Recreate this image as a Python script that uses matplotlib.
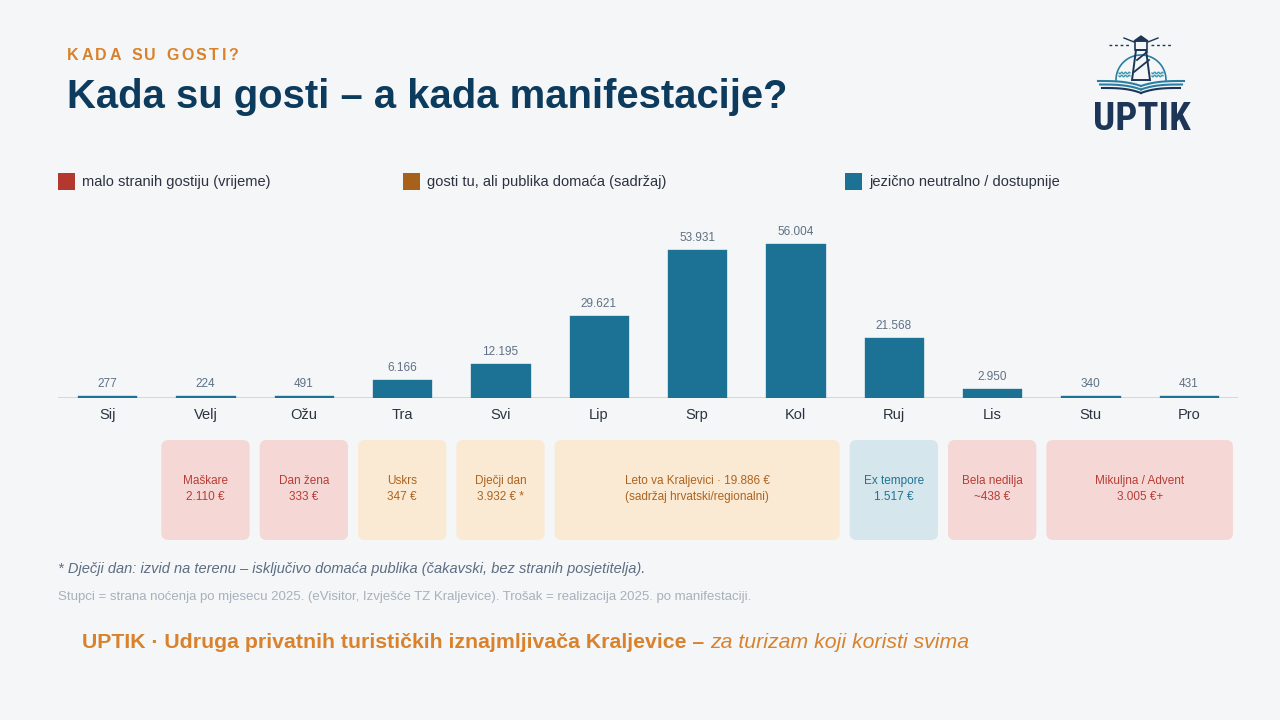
import matplotlib
matplotlib.use('Agg')
import matplotlib.pyplot as plt
import numpy as np
from matplotlib import font_manager
from matplotlib.patches import FancyBboxPatch, Rectangle, Polygon

plt.rcParams['font.family'] = ['Liberation Sans', 'DejaVu Sans']

# ---- data ----
months = ['Sij', 'Velj', 'Ožu', 'Tra', 'Svi', 'Lip', 'Srp', 'Kol', 'Ruj', 'Lis', 'Stu', 'Pro']
nights = [277, 224, 491, 6166, 12195, 29621, 53931, 56004, 21568, 2950, 340, 431]

# events: first / last month index, two text lines, category
ev_start = [1, 2, 3, 4, 5, 8, 9, 10]
ev_end = [1, 2, 3, 4, 7, 8, 9, 11]
ev_name = ['Maškare', 'Dan žena', 'Uskrs', 'Dječji dan', 'Leto va Kraljevici · 19.886 €',
           'Ex tempore', 'Bela nedilja', 'Mikuljna / Advent']
ev_cost = ['2.110 €', '333 €', '347 €', '3.932 € *', '(sadržaj hrvatski/regionalni)',
           '1.517 €', '~438 €', '3.005 €+']
ev_cat = ['red', 'red', 'orange', 'orange', 'orange', 'blue', 'red', 'red']

cat_keys = ['red', 'orange', 'blue']
cat_labels = ['malo stranih gostiju (vrijeme)',
              'gosti tu, ali publika domaća (sadržaj)',
              'jezično neutralno / dostupnije']

kicker = 'KADA SU GOSTI?'
title = 'Kada su gosti – a kada manifestacije?'
note = '* Dječji dan: izvid na terenu – isključivo domaća publika (čakavski, bez stranih posjetitelja).'
source = ('Stupci = strana noćenja po mjesecu 2025. (eVisitor, Izvješće TZ Kraljevice). '
          'Trošak = realizacija 2025. po manifestaciji.')
footer_bold = 'UPTIK · Udruga privatnih turističkih iznajmljivača Kraljevice – '
footer_it = 'za turizam koji koristi svima'

# ---- style ----
BG = '#f4f6f8'
NAVY = '#0d3b5e'
ORANGE = '#d9822b'
BAR = '#1c7294'
cat_color = {'red': '#b3392f', 'orange': '#a8611b', 'blue': '#1c7294'}
box_fill = {'red': '#f5d8d5', 'orange': '#fae9d3', 'blue': '#d6e6ed'}
box_text = {'red': '#b83d35', 'orange': '#ad6420', 'blue': '#1f7393'}

W, H = 1280, 720
fig = plt.figure(figsize=(12.8, 7.2), dpi=100, facecolor=BG)

# bar chart axes (pixel layout)
ax_l, ax_r, base_y, top_y = 58, 1238, 398, 220
ax = fig.add_axes([ax_l / W, 1 - base_y / H, (ax_r - ax_l) / W, (base_y - top_y) / H])
ax.set_facecolor('none')
x = np.arange(len(months))
ax.axhline(0, color='#cdd2d7', lw=1.2, zorder=1)
# thick edge keeps the tiny winter months visible, as in the original
ax.bar(x, nights, width=0.575, color=BAR, edgecolor=BAR, linewidth=2.4, zorder=2)
ax.set_xlim(-0.5, len(months) - 0.5)
ax.set_ylim(0, max(nights) * 178 / 153)
for s in ax.spines.values():
    s.set_visible(False)
ax.set_yticks([])
ax.set_xticks(x)
ax.set_xticklabels(months, fontsize=10.5, color='#2b3340')
ax.tick_params(axis='x', length=0, pad=7)
for xi, v in zip(x, nights):
    ax.annotate(f'{v:,}'.replace(',', '.'), (xi, v), xytext=(0, 5), textcoords='offset points',
                ha='center', va='bottom', fontsize=8.5, color='#5f7184')

# overlay axes in pixel coords (y down)
ov = fig.add_axes([0, 0, 1, 1], zorder=5)
ov.set_xlim(0, W); ov.set_ylim(H, 0)
ov.axis('off'); ov.patch.set_alpha(0)

# event boxes
slot = (ax_r - ax_l) / len(months)
for s0, s1, n1, n2, c in zip(ev_start, ev_end, ev_name, ev_cost, ev_cat):
    x0 = ax_l + s0 * slot + 5
    x1 = ax_l + (s1 + 1) * slot - 5
    ov.add_patch(FancyBboxPatch((x0, 440), x1 - x0, 100, boxstyle='round,pad=0,rounding_size=7',
                                facecolor=box_fill[c], edgecolor='none'))
    cx = (x0 + x1) / 2
    ov.text(cx, 481, n1, ha='center', va='center', fontsize=8.5, color=box_text[c])
    ov.text(cx, 497, n2, ha='center', va='center', fontsize=8.5, color=box_text[c])

# legend
leg_x = [58, 403, 845]
for lx, k, lab in zip(leg_x, cat_keys, cat_labels):
    ov.add_patch(Rectangle((lx, 173), 17, 17, facecolor=cat_color[k], edgecolor='none'))
    ov.text(lx + 24, 182, lab, ha='left', va='center', fontsize=10.5, color='#2b3340')

renderer = fig.canvas.get_renderer()

# letter-spaced kicker
cx = 67
for word in kicker.split(' '):
    for ch in word:
        t = ov.text(cx, 55, ch, ha='left', va='center', fontsize=11.5, fontweight='bold', color=ORANGE)
        cx += t.get_window_extent(renderer).width + 2.6
    cx += 7.4

ov.text(67, 97, title, ha='left', va='center', fontsize=28.8, fontweight='bold', color=NAVY)

ov.text(58, 569, note, ha='left', va='center', fontsize=10.5, style='italic', color='#5c6d82')
ov.text(58, 597, source, ha='left', va='center', fontsize=9.55, color='#a7b1bc')

t = ov.text(82, 643, footer_bold, ha='left', va='center', fontsize=15.35, fontweight='bold', color=ORANGE)
fw = t.get_window_extent(renderer).width
ov.text(82 + fw, 643, footer_it, ha='left', va='center', fontsize=15.35, style='italic', color=ORANGE)

# ---- logo ----
LN = '#1d3557'
LT = '#2b7ea1'
# rays
ov.plot([1109, 1131], [45, 45], color=LN, lw=1.0, ls=(0, (2, 2)))
ov.plot([1151, 1172], [45, 45], color=LN, lw=1.0, ls=(0, (2, 2)))
ov.plot([1124, 1134], [38, 42], color=LN, lw=1.0)
ov.plot([1148, 1158], [42, 38], color=LN, lw=1.0)
# lantern
ov.add_patch(Polygon([(1134, 41), (1141, 36), (1148, 41)], closed=True, facecolor=LN, edgecolor=LN, lw=1))
ov.add_patch(Rectangle((1135, 41), 12, 9, facecolor='none', edgecolor=LN, lw=1.2))
# tower
ov.add_patch(Polygon([(1136, 50), (1146, 50), (1150, 80), (1132, 80)], closed=True,
                     facecolor='none', edgecolor=LN, lw=1.4))
ov.plot([1137, 1147], [60, 52], color=LN, lw=1.3)
ov.plot([1134, 1149], [72, 60], color=LN, lw=1.3)
# sun arc
th = np.linspace(np.pi, 2 * np.pi, 60)
ov.plot(1141 + 25 * np.cos(th), 80 + 25 * np.sin(th), color=LT, lw=1.2, zorder=0)
# waves
wx = np.linspace(0, 11, 30)
for wx0 in (1119, 1152):
    for wy in (73, 76):
        ov.plot(wx0 + wx, wy + 0.8 * np.sin(wx * 1.7), color='#3a9bb0', lw=1.0)
# book
bx = np.linspace(0, 1, 40)
for k, (off, col) in enumerate([(0, LT), (3.5, LT), (7, LN)]):
    yl = 81 + off + 5 * bx ** 3
    ov.plot(1098 + k * 2 + (1141 - 1098 - k * 2) * bx, yl, color=col, lw=1.5)
    ov.plot(1184 - k * 2 - (1184 - 1141 - k * 2) * bx, yl, color=col, lw=1.5)

# UPTIK wordmark: prefer a condensed family when installed
fams = {(f.name, f.stretch) for f in font_manager.fontManager.ttflist}
names = {f[0] for f in fams}
logo_kw = dict(family=['Liberation Sans', 'DejaVu Sans'], fontsize=22)
for cand in ['Roboto Condensed', 'Liberation Sans Narrow', 'Open Sans Condensed']:
    if cand in names:
        logo_kw = dict(family=[cand, 'DejaVu Sans'], fontsize=28)
        break
else:
    if ('DejaVu Sans', 'condensed') in fams:
        logo_kw = dict(family=['DejaVu Sans'], fontstretch='condensed', fontsize=25)
ov.text(1142, 120, 'UPTIK', ha='center', va='center', fontweight='bold', color=LN, **logo_kw)

fig.savefig('out.png', dpi=100, facecolor=BG)
